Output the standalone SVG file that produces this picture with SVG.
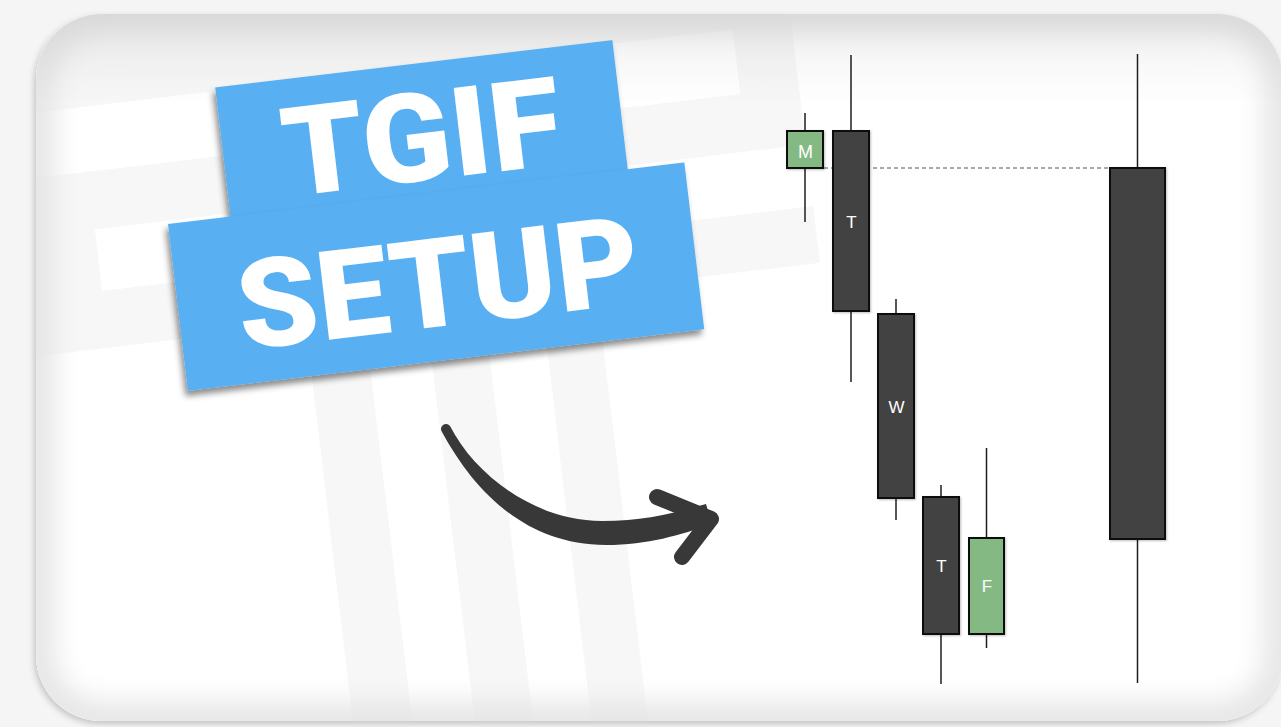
<svg xmlns="http://www.w3.org/2000/svg" width="1281" height="727" viewBox="0 0 1281 727">
<defs>
<style>
.pg{fill:#f7f7f7}
.pw{fill:#ffffff}
.box{fill:#59aff1}
.title{font-family:Roboto,"Liberation Sans",Arial,sans-serif;font-weight:900;font-size:124px;fill:#ffffff;text-anchor:middle}
.wick{stroke:#1e1e1e;stroke-width:1.5;fill:none}
.bear{fill:#434343;stroke:#111111;stroke-width:2}
.bull{fill:#84b984;stroke:#111111;stroke-width:2}
.lbl{font-family:"Liberation Sans",Arial,sans-serif;font-size:17px;fill:#ffffff;text-anchor:middle}
.dash{stroke:#555555;stroke-width:1;stroke-dasharray:4 3;fill:none}
.arrow{fill:#383838}
.arrowhead{fill:none;stroke:#383838;stroke-width:16;stroke-linecap:round;stroke-linejoin:round}
</style>
<clipPath id="cardClip"><rect x="36" y="14" width="1247" height="707" rx="66"/></clipPath>
<filter id="cardShadow" x="-5%" y="-5%" width="110%" height="110%"><feDropShadow dx="-2" dy="3" stdDeviation="3" flood-color="#000000" flood-opacity="0.2"/></filter>
<filter id="vig" x="-10%" y="-10%" width="120%" height="120%"><feGaussianBlur stdDeviation="14"/></filter>
<filter id="boxShadow" x="-10%" y="-10%" width="120%" height="130%"><feDropShadow dx="-3" dy="5" stdDeviation="3" flood-color="#000000" flood-opacity="0.45"/></filter>
<filter id="cShadow" x="-20%" y="-10%" width="140%" height="120%"><feDropShadow dx="1" dy="1" stdDeviation="1" flood-color="#000000" flood-opacity="0.25"/></filter>
<linearGradient id="topShade" x1="0" y1="0" x2="0" y2="1">
<stop offset="0" stop-color="#000000" stop-opacity="0.06"/>
<stop offset="1" stop-color="#000000" stop-opacity="0"/>
</linearGradient>
</defs>

<rect x="0" y="0" width="1281" height="727" fill="#f5f5f5"/>

<g id="card">
<rect x="36" y="14" width="1247" height="707" rx="66" fill="#ffffff" filter="url(#cardShadow)"/>
<g clip-path="url(#cardClip)">
<g transform="rotate(-6.8)">
<rect class="pg" x="-300" y="-300" width="1083" height="658"/>
<rect class="pw" x="-300" y="116" width="1024" height="65"/>
<rect class="pw" x="67" y="239" width="800" height="62"/>
<rect class="pg" x="265" y="358" width="59" height="600"/>
<rect class="pg" x="386" y="358" width="58" height="600"/>
<rect class="pg" x="502" y="358" width="56" height="600"/>
</g>
<rect x="36" y="14" width="1247" height="707" rx="66" fill="none" stroke="#e4e4e4" stroke-width="36" filter="url(#vig)"/>
<rect x="36" y="14" width="1247" height="90" fill="url(#topShade)"/>
</g>
</g>

<g id="title-label" transform="translate(168,224) rotate(-6.8)">
<rect class="box" x="63" y="-130" width="400" height="140" filter="url(#boxShadow)"/>
<text class="title" x="262" y="-13" textLength="280" lengthAdjust="spacingAndGlyphs">TGIF</text>
<rect class="box" x="0" y="0" width="520" height="168" filter="url(#boxShadow)"/>
<text class="title" x="261" y="134" textLength="404" lengthAdjust="spacingAndGlyphs">SETUP</text>
</g>

<g id="connectors">
<line class="dash" x1="824" y1="168" x2="1110" y2="168"/>
<path class="arrow" d="M 450,426 C 475,475 535,521 602,521 C 645,521 675,513 706,504 L 712,524 C 680,535 648,545 606,545 C 515,545 466,476 442,432 A 5,5 0 0 1 450,426 Z"/>
<path class="arrowhead" d="M 657,497 L 711,519 L 682,557"/>
</g>

<g id="candle-m">
<line class="wick" x1="805" y1="113" x2="805" y2="222"/>
<rect class="bull" x="787" y="131" width="36" height="37" filter="url(#cShadow)"/>
<text class="lbl" x="805.5" y="157.5" style="font-size:18px">M</text>
</g>
<g id="candle-t1">
<line class="wick" x1="851" y1="55" x2="851" y2="382"/>
<rect class="bear" x="833" y="131" width="36" height="180" filter="url(#cShadow)"/>
<text class="lbl" x="851.5" y="228">T</text>
</g>
<g id="candle-w">
<line class="wick" x1="896" y1="299" x2="896" y2="520"/>
<rect class="bear" x="878" y="314" width="36" height="184" filter="url(#cShadow)"/>
<text class="lbl" x="896.5" y="413">W</text>
</g>
<g id="candle-t2">
<line class="wick" x1="941" y1="485" x2="941" y2="684"/>
<rect class="bear" x="923" y="497" width="36" height="137" filter="url(#cShadow)"/>
<text class="lbl" x="941.5" y="572">T</text>
</g>
<g id="candle-f">
<line class="wick" x1="986.5" y1="448" x2="986.5" y2="648"/>
<rect class="bull" x="969" y="538" width="35" height="96" filter="url(#cShadow)"/>
<text class="lbl" x="987" y="592">F</text>
</g>
<g id="candle-big">
<line class="wick" x1="1137.5" y1="54" x2="1137.5" y2="683"/>
<rect class="bear" x="1110" y="168" width="55" height="371" filter="url(#cShadow)"/>
</g>
</svg>
